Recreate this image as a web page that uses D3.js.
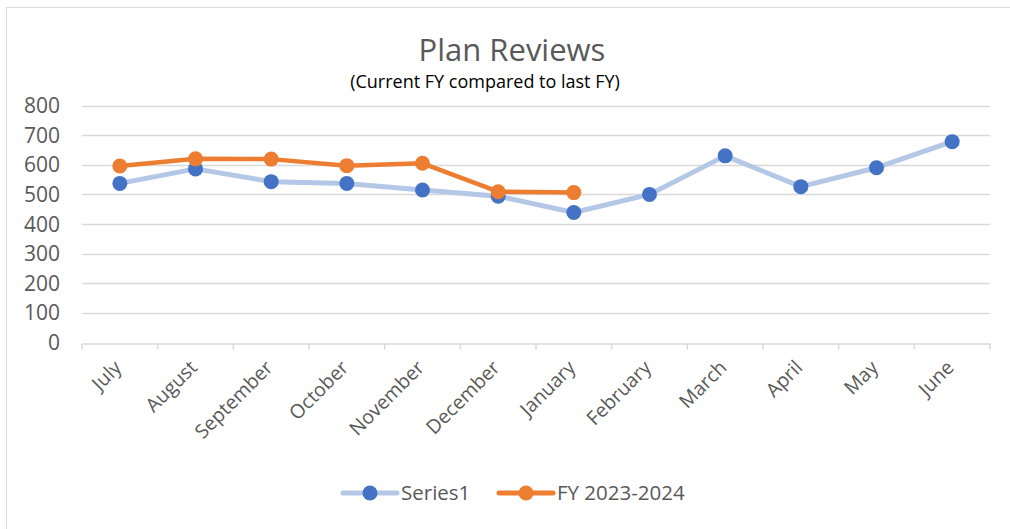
<!DOCTYPE html>
<html>
<head>
<meta charset="utf-8">
<script src="https://cdn.jsdelivr.net/npm/d3@7"></script>
<style>
  body { margin: 0; background: #fff; }
  text { font-family: "Open Sans", sans-serif; fill: #595959; }
</style>
</head>
<body>
<div id="chart"></div>
<script>
var months = ['July', 'August', 'September', 'October', 'November', 'December',
    'January', 'February', 'March', 'April', 'May', 'June']
var series1 = [537, 586, 543, 537, 515, 494, 439, 500, 630, 526, 590, 678]
var fy2324 = [596, 620, 619, 597, 605, 509, 506]
var yTicks = [0, 100, 200, 300, 400, 500, 600, 700, 800]

var w = 1010,
    h = 529

var svg = d3.select('#chart')
    .append('svg')
    .attr('width', w)
    .attr('height', h)

// chart frame
svg.append('rect')
    .attr('x', 6.5)
    .attr('y', 7.5)
    .attr('width', 1010)
    .attr('height', 540)
    .attr('fill', 'none')
    .attr('stroke', '#d9d9d9')

var x = d3.scaleBand()
    .domain(months)
    .range([82, 990])

var y = d3.scaleLinear()
    .domain([0, 800])
    .range([342.5, 105.5])

// gridlines
svg.append('g')
    .selectAll('line')
    .data(yTicks.slice(1))
    .enter()
    .append('line')
    .attr('x1', 82)
    .attr('x2', 990)
    .attr('y1', d => Math.round(y(d)) + 0.5)
    .attr('y2', d => Math.round(y(d)) + 0.5)
    .attr('stroke', '#d9d9d9')
    .attr('stroke-width', 1.5)

// y labels
svg.append('g')
    .selectAll('text')
    .data(yTicks)
    .enter()
    .append('text')
    .text(d => d)
    .attr('x', 60)
    .attr('y', d => y(d))
    .attr('dy', '0.36em')
    .attr('text-anchor', 'end')
    .style('font-size', '21px')

// x axis
var xaxis = d3.axisBottom(x).tickSize(0).tickFormat('')
var gx = svg.append('g')
    .attr('transform', `translate(0, ${Math.round(y(0)) + 0.5})`)
    .call(xaxis)
gx.select('.domain').attr('stroke', '#d9d9d9').attr('stroke-width', 1.5)
gx.selectAll('.tickmark')
    .data(months.concat(['end']))
    .enter()
    .append('line')
    .attr('class', 'tickmark')
    .attr('x1', (d, i) => i < months.length ? x(d) : x.range()[1])
    .attr('x2', (d, i) => i < months.length ? x(d) : x.range()[1])
    .attr('y1', 0)
    .attr('y2', 6)
    .attr('stroke', '#d9d9d9')
    .attr('stroke-width', 1.5)

svg.append('g')
    .selectAll('text')
    .data(months)
    .enter()
    .append('text')
    .text(d => d)
    .attr('text-anchor', 'end')
    .attr('transform', d => `translate(${x(d) + x.bandwidth() / 2 - 2}, 364) rotate(-45)`)
    .attr('dy', '0.35em')
    .style('font-size', '19.5px')

// lines
var line = d3.line()
    .x((d, i) => x(months[i]) + x.bandwidth() / 2)
    .y(d => y(d))

svg.append('path')
    .datum(series1)
    .attr('d', line)
    .attr('fill', 'none')
    .attr('stroke', '#b4c7e7')
    .attr('stroke-width', 5)
    .attr('stroke-linejoin', 'round')

svg.append('g')
    .selectAll('circle')
    .data(series1)
    .enter()
    .append('circle')
    .attr('cx', (d, i) => x(months[i]) + x.bandwidth() / 2)
    .attr('cy', d => y(d))
    .attr('r', 7.5)
    .attr('fill', '#4472c4')

svg.append('path')
    .datum(fy2324)
    .attr('d', line)
    .attr('fill', 'none')
    .attr('stroke', '#ed7d31')
    .attr('stroke-width', 4.5)
    .attr('stroke-linejoin', 'round')

svg.append('g')
    .selectAll('circle')
    .data(fy2324)
    .enter()
    .append('circle')
    .attr('cx', (d, i) => x(months[i]) + x.bandwidth() / 2)
    .attr('cy', d => y(d))
    .attr('r', 7.5)
    .attr('fill', '#ed7d31')

// titles
svg.append('text')
    .text('Plan Reviews')
    .attr('text-anchor', 'middle')
    .attr('x', 512)
    .attr('y', 61)
    .style('font-size', '31px')

svg.append('text')
    .text('(Current FY compared to last FY)')
    .attr('text-anchor', 'middle')
    .attr('x', 485)
    .attr('y', 88)
    .style('font-size', '18px')
    .style('fill', '#000')

// legend
var legend = [
    { name: 'Series1', line: '#b4c7e7', dot: '#4472c4', x: 343 },
    { name: 'FY 2023-2024', line: '#ed7d31', dot: '#ed7d31', x: 499 }
]
var lg = svg.append('g')
    .selectAll('g')
    .data(legend)
    .enter()
    .append('g')
    .attr('transform', d => `translate(${d.x}, 493)`)
lg.append('line')
    .attr('x1', 0)
    .attr('x2', 54)
    .attr('stroke', d => d.line)
    .attr('stroke-width', 5)
    .attr('stroke-linecap', 'round')
lg.append('circle')
    .attr('cx', 27)
    .attr('r', 7.5)
    .attr('fill', d => d.dot)
lg.append('text')
    .text(d => d.name)
    .attr('x', 58)
    .attr('dy', '0.36em')
    .style('font-size', '20.5px')
</script>
</body>
</html>
